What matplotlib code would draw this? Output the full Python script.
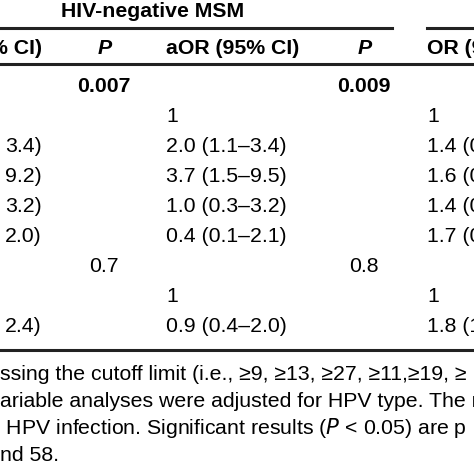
import matplotlib
matplotlib.use("Agg")
import matplotlib.pyplot as plt

plt.rcParams['font.family'] = ['Liberation Sans', 'DejaVu Sans']

group_title = "HIV-negative MSM"
col_headers = ["% CI)", "P", "aOR (95% CI)", "P", "OR (95% CI)"]
col_or = ["", "", "3.4)", "9.2)", "3.2)", "2.0)", "", "", "2.4)"]
col_p1 = ["0.007", "", "", "", "", "", "0.7", "", ""]
col_aor = ["", "1", "2.0 (1.1–3.4)", "3.7 (1.5–9.5)", "1.0 (0.3–3.2)", "0.4 (0.1–2.1)", "", "1", "0.9 (0.4–2.0)"]
col_p2 = ["0.009", "", "", "", "", "", "0.8", "", ""]
col_or2 = ["", "1", "1.4 (0.7–2.6)", "1.6 (0.6–4.1)", "1.4 (0.5–3.9)", "1.7 (0.5–5.4)", "", "1", "1.8 (1.0–3.3)"]
bold_p = ["0.007", "0.009"]
footnote = [
    "ssing the cutoff limit (i.e., ≥9, ≥13, ≥27, ≥11,≥19, ≥",
    "ariable analyses were adjusted for HPV type. The r",
    " HPV infection. Significant results ($\\it{P}$ < 0.05) are p",
    "nd 58.",
]

W = H = 474
fig = plt.figure(figsize=(4.74, 4.74), dpi=100)
ax = fig.add_axes([0, 0, 1, 1])
ax.set_xlim(0, W); ax.set_ylim(H, 0); ax.axis('off')
fs = 15.3
def t(x, y, s, **kw):
    ax.text(x, y, s, fontsize=fs, va='center', clip_on=True, **kw)

t(153, 11, group_title, ha='center', weight='bold')
ax.plot([0, 392], [28, 28], color='#222', lw=2.2)
ax.plot([427, 480], [28, 28], color='#222', lw=2.2)
t(42, 48, col_headers[0], ha='right', weight='bold')
t(105, 48, col_headers[1], ha='center', weight='bold', style='italic')
t(166, 48, col_headers[2], ha='left', weight='bold')
t(365, 48, col_headers[3], ha='center', weight='bold', style='italic')
t(427, 48, col_headers[4], ha='left', weight='bold')
ax.plot([0, W], [64, 64], color='#222', lw=2.2)

for i in range(len(col_aor)):
    y = 86 + i * 30.1
    t(42, y, col_or[i], ha='right')
    t(104, y, col_p1[i], ha='center', weight='bold' if col_p1[i] in bold_p else 'normal')
    t(166, y, col_aor[i], ha='left')
    t(364, y, col_p2[i], ha='center', weight='bold' if col_p2[i] in bold_p else 'normal')
    t(427, y, col_or2[i], ha='left')

ax.plot([0, W], [350, 350], color='#222', lw=2.2)
for j, line in enumerate(footnote):
    t(0, 375 + j * 26.7, line, ha='left')

fig.savefig("out.png", dpi=100)
